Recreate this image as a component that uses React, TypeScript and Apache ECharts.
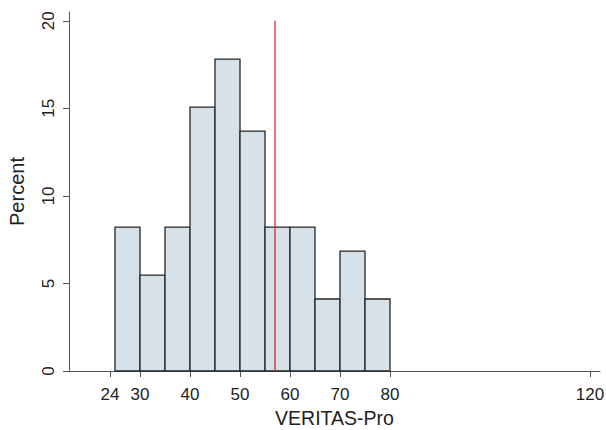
import React, { useEffect, useRef } from "react";
import * as echarts from "echarts";

const binLow = [25, 30, 35, 40, 45, 50, 55, 60, 65, 70, 75];
const binHigh = [30, 35, 40, 45, 50, 55, 60, 65, 70, 75, 80];
const percent = [8.22, 5.48, 8.22, 15.07, 17.81, 13.7, 8.22, 8.22, 4.11, 6.85, 4.11];
const xTicks = [24, 30, 40, 50, 60, 70, 80, 120];
const yTicks = [0, 5, 10, 15, 20];
const refValue = 57;
const refLine = [
  [refValue, 0],
  [refValue, 20],
];

const FONT = "'Liberation Sans', Arial, Helvetica, sans-serif";

export default function App() {
  const ref = useRef<HTMLDivElement>(null);
  useEffect(() => {
    if (!ref.current) return;
    const chart = echarts.init(ref.current, null, { renderer: "svg" });
    const data = binLow.map((lo, i) => [lo, binHigh[i], percent[i]]);
    chart.setOption({
      animation: false,
      backgroundColor: "#ffffff",
      grid: { left: 69, right: 6, top: 12, bottom: 59, outerBoundsMode: "none", containLabel: false },
      xAxis: {
        type: "value",
        min: 15.8,
        max: 122,
        name: "VERITAS-Pro",
        nameLocation: "middle",
        nameGap: 37,
        nameTextStyle: { fontFamily: FONT, fontSize: 19.5, color: "#222", lineHeight: 20 },
        axisLine: { show: true, lineStyle: { color: "#555", width: 1 } },
        axisTick: { show: true, length: 6, customValues: xTicks, lineStyle: { color: "#555" } },
        axisLabel: {
          customValues: xTicks,
          fontFamily: FONT,
          fontSize: 17,
          color: "#222",
          margin: 15,
        },
        splitLine: { show: false },
      },
      yAxis: {
        type: "value",
        min: 0,
        max: 20.5,
        name: "Percent",
        nameLocation: "middle",
        nameGap: 42,
        nameTextStyle: { fontFamily: FONT, fontSize: 20, color: "#222" },
        axisLine: { show: true, lineStyle: { color: "#555", width: 1 } },
        axisTick: { show: true, length: 6, customValues: yTicks, lineStyle: { color: "#555" } },
        axisLabel: {
          customValues: yTicks,
          rotate: 90,
          fontFamily: FONT,
          fontSize: 17,
          color: "#222",
          margin: 12,
        },
        splitLine: { show: false },
      },
      series: [
        {
          type: "custom",
          data,
          encode: { x: [0, 1], y: 2 },
          renderItem: (params: any, api: any) => {
            const p0 = api.coord([api.value(0), api.value(2)]);
            const p1 = api.coord([api.value(1), 0]);
            return {
              type: "rect",
              shape: { x: p0[0], y: p0[1], width: p1[0] - p0[0], height: p1[1] - p0[1] },
              style: { fill: "#d6e1e9", stroke: "#262626", lineWidth: 1.3 },
            };
          },
          z: 2,
        },
        {
          type: "line",
          data: refLine,
          symbol: "none",
          lineStyle: { color: "#e0262c", width: 1.3 },
          z: 3,
        },
      ],
    });
    return () => chart.dispose();
  }, []);
  return <div ref={ref} style={{ width: 606, height: 430, position: "absolute", left: 0, top: 0 }} />;
}
